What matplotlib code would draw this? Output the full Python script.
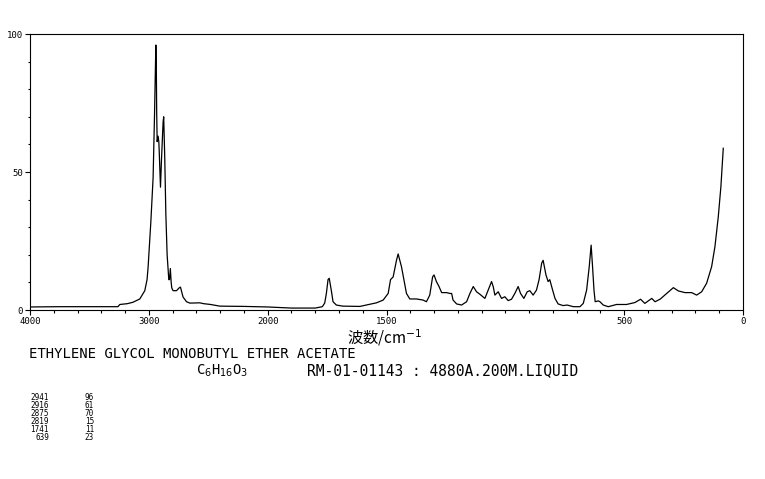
import matplotlib
matplotlib.use("Agg")
import matplotlib.pyplot as plt
import numpy as np

# spectrum (wavenumber cm-1, intensity)
wn = [4000, 3750, 3500, 3260, 3244, 3180, 3134, 3076, 3034, 3015, 3006, 2983,
      2964, 2952, 2945, 2941, 2937, 2934, 2930, 2922, 2916, 2913, 2902, 2893,
      2880, 2875, 2866, 2857, 2846, 2832, 2826, 2819, 2812, 2807, 2796, 2767,
      2745, 2734, 2712, 2683, 2655, 2571, 2540, 2480, 2403, 2200, 2000, 1900,
      1800, 1770, 1760, 1753, 1746, 1741, 1732, 1725, 1711, 1684, 1612, 1542,
      1514, 1493, 1483, 1472, 1458, 1451, 1437, 1427, 1416, 1402, 1374, 1346,
      1332, 1318, 1306, 1300, 1290, 1279, 1268, 1247, 1234, 1226, 1220, 1205,
      1184, 1163, 1149, 1135, 1121, 1107, 1086, 1072, 1058, 1051, 1044, 1030,
      1016, 1002, 988, 974, 960, 946, 936, 922, 908, 897, 883, 869, 858, 847,
      841, 829, 820, 813, 801, 791, 778, 757, 740, 714, 686, 672, 658, 647,
      639, 633, 627, 622, 609, 602, 588, 567, 532, 490, 455, 431, 413, 384,
      370, 349, 321, 293, 272, 244, 216, 195, 174, 153, 132, 118, 104, 93, 83]
inten = [1.1, 1.2, 1.2, 1.2, 2.0, 2.3, 2.8, 4.0, 7.0, 11, 15.6, 32,
         48, 71, 88, 96, 88, 72, 61, 63, 61, 58, 44.5, 55,
         68, 70, 55, 35, 20, 11, 11, 15, 10, 8, 7, 7,
         8, 8.3, 4.7, 3.0, 2.5, 2.6, 2.3, 2.0, 1.4, 1.3, 1.1, 0.7,
         0.7, 1.2, 2.5, 6, 11, 11.5, 7, 3, 1.8, 1.4, 1.3, 2.6,
         3.6, 6, 11, 12, 18, 20.3, 15.7, 11, 6, 4, 4, 3.6,
         3, 5.4, 12, 12.7, 10.3, 8.5, 6.3, 6.3, 6, 6, 3.6, 2.2,
         1.8, 3, 6, 8.5, 6.6, 5.7, 4.2, 7.2, 10.3, 8.5, 5.4, 6.6,
         4.2, 4.8, 3.4, 3.9, 6, 8.5, 6, 4.2, 6.6, 7, 5.4, 7.2, 11, 17,
         18, 12.7, 10.3, 11, 7.2, 4.2, 2.2, 1.6, 1.8, 1.2, 1.2, 2.4, 7.2, 15.7,
         23.5, 15.7, 7.2, 3, 3.3, 3, 1.8, 1.2, 2, 2, 2.7, 3.9, 2.4, 4.2,
         3, 3.9, 6, 8.1, 6.9, 6.3, 6.3, 5.4, 6.6, 9.7, 15.7, 23, 33.8, 44.7, 58.6]

peak_wn = ["2941", "2916", "2875", "2819", "1741", "639"]
peak_int = ["96", "61", "70", "15", "11", "23"]

x_major = [4000, 3000, 2000, 1500, 500, 0]
x_labels = ["4000", "3000", "2000", "1500", "500", "0"]


# axis is compressed by half above 2000 cm-1
def fwd(w):
    w = np.asarray(w, dtype=float)
    return np.where(w > 2000, 2000 + (w - 2000) / 2, w)


def inv(u):
    u = np.asarray(u, dtype=float)
    return np.where(u > 2000, 2000 + (u - 2000) * 2, u)


W, H = 765, 479
fig = plt.figure(figsize=(W / 100, H / 100), dpi=100)
ax = fig.add_axes([30 / W, 1 - 310 / H, 713 / W, 276 / H])
ax.set_xscale("function", functions=(fwd, inv))
ax.plot(wn, inten, color="black", lw=0.9)
ax.set_xlim(4000, 0)
ax.set_ylim(0, 100)

mono = "DejaVu Sans Mono"
ax.set_xticks(x_major)
ax.set_xticklabels(x_labels, fontsize=6.5, family=mono)
ax.set_xticks(list(range(3800, 2000, -200)) + list(range(1900, 0, -100)), minor=True)
ax.set_yticks([0, 50, 100])
ax.set_yticklabels(["0", "50", "100"], fontsize=6.5, family=mono)
ax.set_yticks(range(10, 100, 10), minor=True)
ax.tick_params(which="major", direction="out", length=3.5, width=0.8, pad=1.5)
ax.tick_params(which="minor", direction="out", length=1.8, width=0.8)
for s in ax.spines.values():
    s.set_linewidth(0.8)

fig.text(385 / W, 1 - 338 / H, "波数/cm$^{-1}$", ha="center", va="center",
         fontsize=11, family=["Noto Sans CJK JP", "DejaVu Sans"])

fig.text(29 / W, 1 - 354 / H, "ETHYLENE GLYCOL MONOBUTYL ETHER ACETATE",
         ha="left", va="center", fontsize=10, family=mono)
fig.text(196 / W, 1 - 371 / H, "C$_{6}$H$_{16}$O$_{3}$",
         ha="left", va="center", fontsize=10, family=mono)
fig.text(307 / W, 1 - 371 / H, "RM-01-01143 : 4880A.200M.LIQUID",
         ha="left", va="center", fontsize=10.5, family=mono)

for i, (p, v) in enumerate(zip(peak_wn, peak_int)):
    y = 1 - (398 + i * 7.8) / H
    fig.text(49 / W, y, p, ha="right", va="center", fontsize=5.5, family=mono)
    fig.text(94 / W, y, v, ha="right", va="center", fontsize=5.5, family=mono)

fig.savefig("out.png", dpi=100)
